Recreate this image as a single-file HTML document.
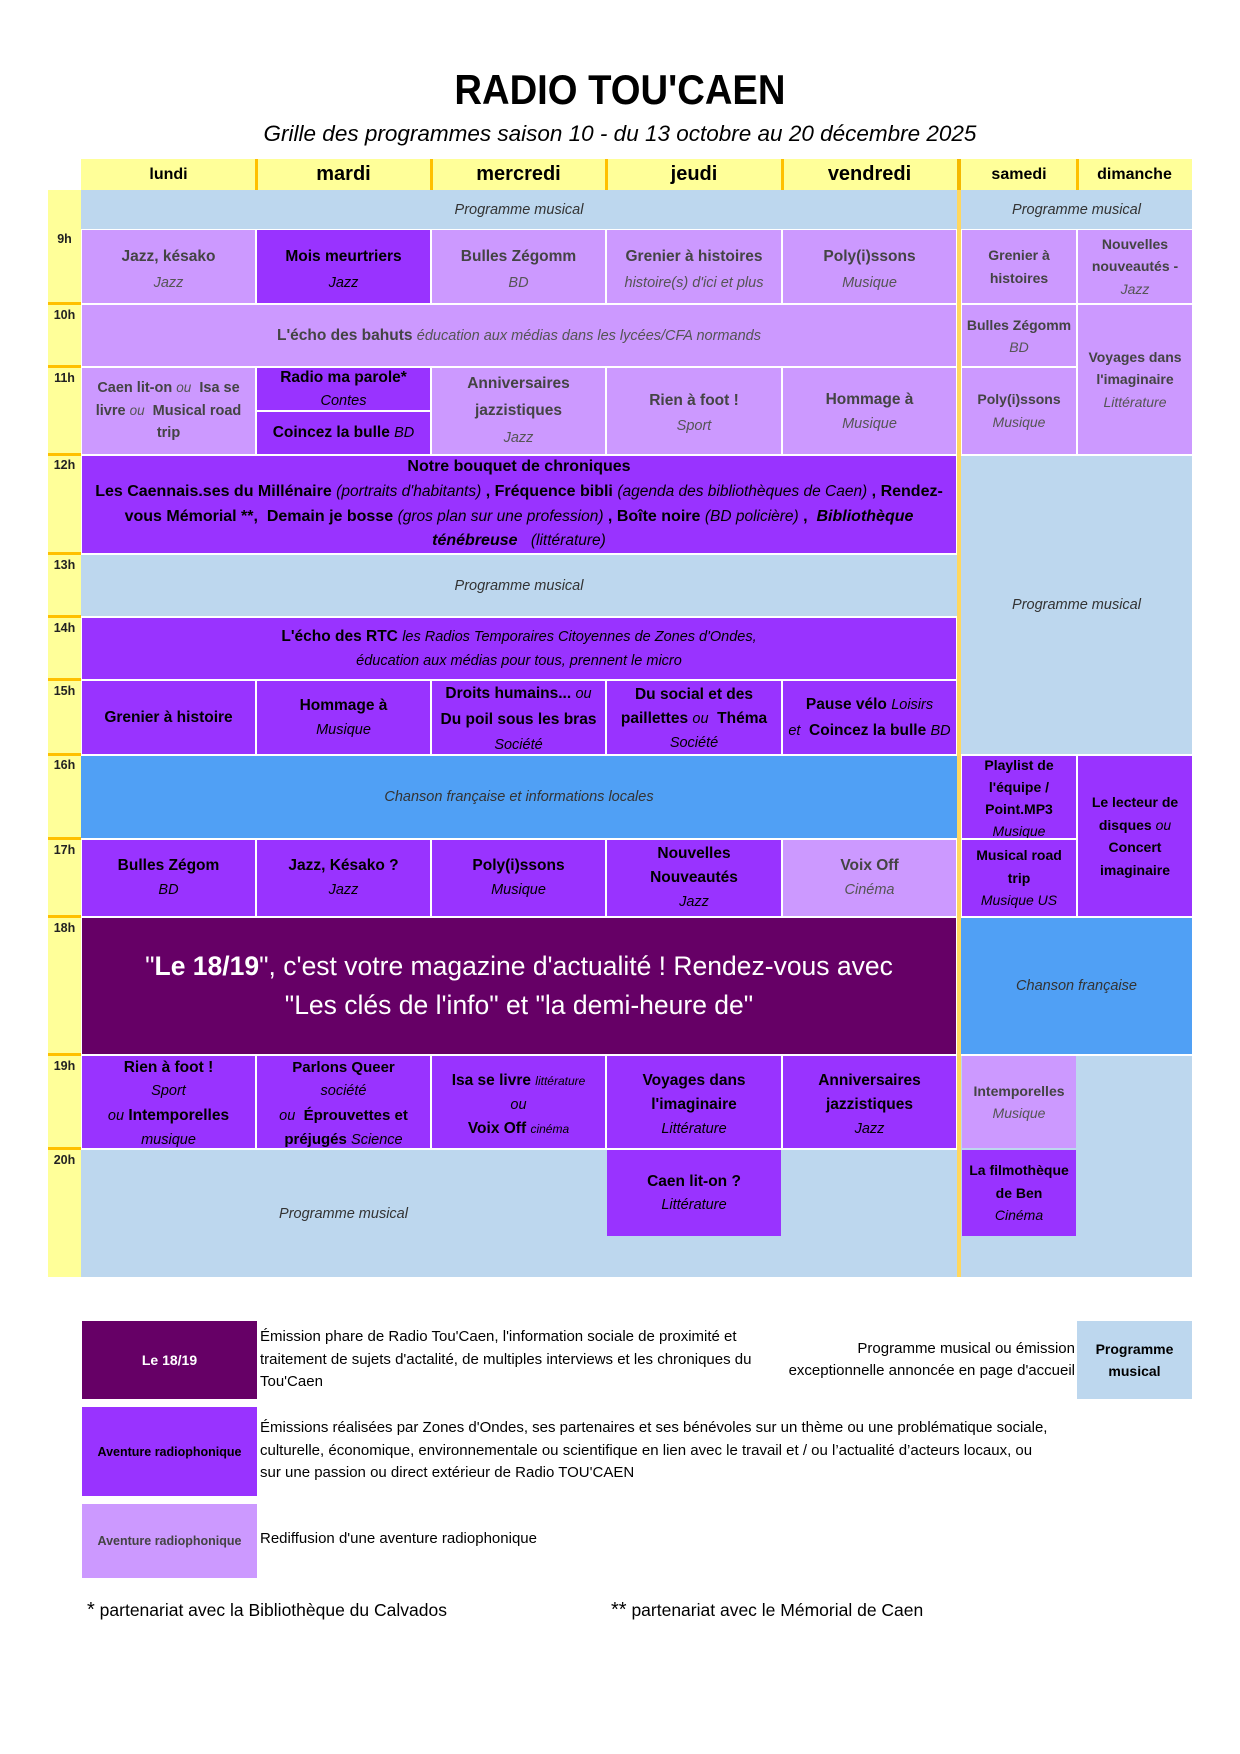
<!DOCTYPE html>
<html><head><meta charset="utf-8">
<style>
body{margin:0;width:1240px;height:1754px;position:relative;background:#fff;font-family:"Liberation Sans",sans-serif;overflow:hidden;color:#000}
.a{position:absolute}
.c{position:absolute;display:flex;align-items:center;justify-content:center;text-align:center;white-space:nowrap;overflow:hidden;box-sizing:border-box;font-weight:bold;font-size:15.5px;line-height:24px}
.c i{font-weight:normal;font-size:14.5px}
.c i.bi{font-weight:bold;font-size:16px}
.lb{background:#BDD7EE;color:#333}
.lb i{color:#333}
.lp{background:#CC99FF;color:#444}
.lp i{color:#555}
.p{background:#9933FF;color:#000}
.dp{background:#660066;color:#fff}
.bl{background:#50A0F5;color:#333}
.wk{font-size:14px}
.wk i{font-size:14px}
.hd{position:absolute;top:159px;height:31px;display:flex;align-items:center;justify-content:center;font-weight:bold;color:#000}
.or{position:absolute;background:#FFC000}
.tl{position:absolute;left:48px;width:33px;text-align:center;font-weight:bold;font-size:12.5px;line-height:14px;color:#222}
.lg{position:absolute;font-size:15px;line-height:22.5px;white-space:nowrap;color:#000}
</style></head><body>

<!-- Title -->
<div class="a" style="left:0;top:69px;width:1240px;text-align:center;font-weight:bold;font-size:42px;line-height:42px;"><span style="display:inline-block;transform:scaleX(0.91)">RADIO TOU'CAEN</span></div>
<div class="a" style="left:0;top:123px;width:1240px;text-align:center;font-style:italic;font-size:22.5px;line-height:22px;">Grille des programmes saison 10 - du 13 octobre au 20 décembre 2025</div>

<!-- Header -->
<div class="a" style="left:81px;top:159px;width:1111px;height:31px;background:#FFFF99"></div>
<div class="hd" style="left:81px;width:175px;font-size:16px">lundi</div>
<div class="hd" style="left:256px;width:175px;font-size:20px">mardi</div>
<div class="hd" style="left:431px;width:175px;font-size:20px">mercredi</div>
<div class="hd" style="left:606px;width:176px;font-size:20px">jeudi</div>
<div class="hd" style="left:782px;width:175px;font-size:20px">vendredi</div>
<div class="hd" style="left:961px;width:116px;font-size:16px">samedi</div>
<div class="hd" style="left:1077px;width:115px;font-size:16px">dimanche</div>
<div class="or" style="left:255px;top:159px;width:3px;height:31px"></div>
<div class="or" style="left:430px;top:159px;width:3px;height:31px"></div>
<div class="or" style="left:605px;top:159px;width:3px;height:31px"></div>
<div class="or" style="left:781px;top:159px;width:3px;height:31px"></div>
<div class="or" style="left:1076px;top:159px;width:3px;height:31px"></div>

<!-- Time column -->
<div class="a" style="left:48px;top:190px;width:33px;height:1087px;background:#FFFF99"></div>
<div class="or" style="left:48px;top:302px;width:33px;height:3px"></div>
<div class="or" style="left:48px;top:365px;width:33px;height:3px"></div>
<div class="or" style="left:48px;top:453px;width:33px;height:3px"></div>
<div class="or" style="left:48px;top:552px;width:33px;height:3px"></div>
<div class="or" style="left:48px;top:615px;width:33px;height:3px"></div>
<div class="or" style="left:48px;top:678px;width:33px;height:3px"></div>
<div class="or" style="left:48px;top:753px;width:33px;height:3px"></div>
<div class="or" style="left:48px;top:837px;width:33px;height:3px"></div>
<div class="or" style="left:48px;top:915px;width:33px;height:3px"></div>
<div class="or" style="left:48px;top:1053px;width:33px;height:3px"></div>
<div class="or" style="left:48px;top:1147px;width:33px;height:3px"></div>
<div class="tl" style="top:232px">9h</div>
<div class="tl" style="top:308px">10h</div>
<div class="tl" style="top:371px">11h</div>
<div class="tl" style="top:458px">12h</div>
<div class="tl" style="top:558px">13h</div>
<div class="tl" style="top:621px">14h</div>
<div class="tl" style="top:684px">15h</div>
<div class="tl" style="top:758px">16h</div>
<div class="tl" style="top:843px">17h</div>
<div class="tl" style="top:921px">18h</div>
<div class="tl" style="top:1059px">19h</div>
<div class="tl" style="top:1153px">20h</div>

<!-- Background light blue areas -->
<div class="a lb" style="left:81px;top:1150px;width:876px;height:127px"></div>
<div class="a lb" style="left:961px;top:1056px;width:231px;height:221px"></div>
<div class="a" style="left:81px;top:1150px;width:525px;height:127px;display:flex;align-items:center;justify-content:center;font-style:italic;font-size:14.5px;color:#333">Programme musical</div>

<!-- Top row -->
<div class="c lb" style="left:81px;top:190px;width:876px;height:39px"><div><i>Programme musical</i></div></div>
<div class="c lb" style="left:961px;top:190px;width:231px;height:39px"><div><i>Programme musical</i></div></div>

<!-- 9h -->
<div class="c lp" style="left:82px;top:230px;width:173px;height:73px;line-height:26px;padding-top:6px"><div>Jazz, késako<br><i>Jazz</i></div></div>
<div class="c p" style="left:257px;top:230px;width:173px;height:73px;line-height:26px;padding-top:6px"><div>Mois meurtriers<br><i>Jazz</i></div></div>
<div class="c lp" style="left:432px;top:230px;width:173px;height:73px;line-height:26px;padding-top:6px"><div>Bulles Zégomm<br><i>BD</i></div></div>
<div class="c lp" style="left:607px;top:230px;width:174px;height:73px;line-height:26px;padding-top:6px"><div>Grenier à histoires<br><i>histoire(s) d'ici et plus</i></div></div>
<div class="c lp" style="left:783px;top:230px;width:173px;height:73px;line-height:26px;padding-top:6px"><div>Poly(i)ssons<br><i>Musique</i></div></div>
<div class="c lp wk" style="left:962px;top:230px;width:114px;height:73px;line-height:23px"><div>Grenier à<br>histoires</div></div>
<div class="c lp wk" style="left:1078px;top:230px;width:114px;height:73px;line-height:22.5px"><div>Nouvelles<br>nouveautés -<br><i>Jazz</i></div></div>

<!-- 10h -->
<div class="c lp" style="left:82px;top:305px;width:874px;height:61px"><div>L'écho des bahuts <i>éducation aux médias dans les lycées/CFA normands</i></div></div>
<div class="c lp wk" style="left:962px;top:305px;width:114px;height:61px;line-height:22px"><div>Bulles Zégomm<br><i>BD</i></div></div>
<div class="c lp wk" style="left:1078px;top:305px;width:114px;height:149px;line-height:22.5px"><div>Voyages dans<br>l'imaginaire<br><i>Littérature</i></div></div>

<!-- 11h -->
<div class="c lp" style="left:82px;top:368px;width:173px;height:86px;line-height:22.5px;font-size:14.5px"><div>Caen lit-on <i style="font-size:13.5px">ou</i>&nbsp; Isa se<br>livre <i style="font-size:13.5px">ou</i>&nbsp; Musical road<br>trip</div></div>
<div class="c p" style="left:257px;top:368px;width:173px;height:42px;line-height:23px"><div>Radio ma parole*<br><i>Contes</i></div></div>
<div class="c p" style="left:257px;top:412px;width:173px;height:42px"><div>Coincez la bulle <i>BD</i></div></div>
<div class="c lp" style="left:432px;top:368px;width:173px;height:86px;line-height:27px"><div>Anniversaires<br>jazzistiques<br><i>Jazz</i></div></div>
<div class="c lp" style="left:607px;top:368px;width:174px;height:86px;line-height:25px;padding-top:4px"><div>Rien à foot !<br><i>Sport</i></div></div>
<div class="c lp" style="left:783px;top:368px;width:173px;height:86px;line-height:24px;padding-top:2px"><div>Hommage à<br><i>Musique</i></div></div>
<div class="c lp wk" style="left:962px;top:368px;width:114px;height:86px;line-height:23px"><div>Poly(i)ssons<br><i>Musique</i></div></div>

<!-- 12h -->
<div class="c p" style="left:82px;top:456px;width:874px;height:97px;line-height:24.7px;font-size:16px"><div>Notre bouquet de chroniques<br>Les Caennais.ses du Millénaire <i style="font-size:15.5px">(portraits d'habitants)</i> , Fréquence bibli <i style="font-size:15.5px">(agenda des bibliothèques de Caen)</i> , Rendez-<br>vous Mémorial **,&nbsp; Demain je bosse <i style="font-size:15.5px">(gros plan sur une profession)</i> , Boîte noire <i style="font-size:15.5px">(BD policière)</i> ,&nbsp; <i class="bi">Bibliothèque</i><br><i class="bi">ténébreuse</i>&nbsp;&nbsp; <i style="font-size:15.5px">(littérature)</i></div></div>
<div class="c lb" style="left:961px;top:456px;width:231px;height:298px"><div><i>Programme musical</i></div></div>

<!-- 13h -->
<div class="c lb" style="left:81px;top:555px;width:876px;height:61px"><div><i>Programme musical</i></div></div>

<!-- 14h -->
<div class="c p" style="left:82px;top:618px;width:874px;height:61px;line-height:23px"><div>L'écho des RTC <i>les Radios Temporaires Citoyennes de Zones d'Ondes,</i><br><i>éducation aux médias pour tous, prennent le micro</i></div></div>

<!-- 15h -->
<div class="c p" style="left:82px;top:681px;width:173px;height:73px"><div>Grenier à histoire</div></div>
<div class="c p" style="left:257px;top:681px;width:173px;height:73px;line-height:24px"><div>Hommage à<br><i>Musique</i></div></div>
<div class="c p" style="left:432px;top:681px;width:173px;height:73px;line-height:25px;padding-top:3px"><div>Droits humains... <i>ou</i><br>Du poil sous les bras<br><i>Société</i></div></div>
<div class="c p" style="left:607px;top:681px;width:174px;height:73px;line-height:24px;padding-top:3px"><div>Du social et des<br>paillettes <i>ou</i>&nbsp; Théma<br><i>Société</i></div></div>
<div class="c p" style="left:783px;top:681px;width:173px;height:73px;line-height:25px"><div>Pause vélo <i>Loisirs</i><br><i>et</i>&nbsp; Coincez la bulle <i>BD</i></div></div>

<!-- 16h -->
<div class="c bl" style="left:81px;top:756px;width:876px;height:82px"><div><i style="color:#333">Chanson française et informations locales</i></div></div>
<div class="c p wk" style="left:962px;top:756px;width:114px;height:82px;line-height:22px;align-items:flex-start"><div style="margin-top:-2px">Playlist de<br>l'équipe /<br>Point.MP3<br><i>Musique</i></div></div>
<div class="c p wk" style="left:1078px;top:756px;width:114px;height:160px;line-height:22.5px"><div>Le lecteur de<br>disques <i>ou</i><br>Concert<br>imaginaire</div></div>

<!-- 17h -->
<div class="c p" style="left:82px;top:840px;width:173px;height:76px;line-height:24px"><div>Bulles Zégom<br><i>BD</i></div></div>
<div class="c p" style="left:257px;top:840px;width:173px;height:76px;line-height:24px"><div>Jazz, Késako ?<br><i>Jazz</i></div></div>
<div class="c p" style="left:432px;top:840px;width:173px;height:76px;line-height:24px"><div>Poly(i)ssons<br><i>Musique</i></div></div>
<div class="c p" style="left:607px;top:840px;width:174px;height:76px;line-height:24px"><div>Nouvelles<br>Nouveautés<br><i>Jazz</i></div></div>
<div class="c lp" style="left:783px;top:840px;width:173px;height:76px;line-height:24px"><div>Voix Off<br><i>Cinéma</i></div></div>
<div class="c p wk" style="left:962px;top:840px;width:114px;height:76px;line-height:22.5px"><div>Musical road<br>trip<br><i>Musique US</i></div></div>

<!-- 18h -->
<div class="c dp" style="left:82px;top:918px;width:874px;height:136px;font-weight:normal;font-size:26.5px;line-height:39px"><div>"<b>Le 18/19</b>", c'est votre magazine d'actualité ! Rendez-vous avec<br>"Les clés de l'info" et "la demi-heure de"</div></div>
<div class="c bl" style="left:961px;top:918px;width:231px;height:136px"><div><i style="color:#333">Chanson française</i></div></div>

<!-- 19h -->
<div class="c p" style="left:82px;top:1056px;width:173px;height:92px;line-height:23.3px;padding-top:4px"><div>Rien à foot !<br><i>Sport</i><br><i>ou</i> Intemporelles<br><i>musique</i></div></div>
<div class="c p" style="left:257px;top:1056px;width:173px;height:92px;line-height:23.3px;padding-top:4px;font-size:15px"><div>Parlons Queer<br><i>société</i><br><i>ou</i>&nbsp; Éprouvettes et<br>préjugés <i>Science</i></div></div>
<div class="c p" style="left:432px;top:1056px;width:173px;height:92px;line-height:23px;padding-top:6px"><div>Isa se livre <i style="font-size:12px">littérature</i><br><i>ou</i><br>Voix Off <i style="font-size:12px">cinéma</i></div></div>
<div class="c p" style="left:607px;top:1056px;width:174px;height:92px;line-height:24px;padding-top:6px"><div>Voyages dans<br>l'imaginaire<br><i>Littérature</i></div></div>
<div class="c p" style="left:783px;top:1056px;width:173px;height:92px;line-height:24px;padding-top:6px"><div>Anniversaires<br>jazzistiques<br><i>Jazz</i></div></div>
<div class="c lp wk" style="left:962px;top:1056px;width:114px;height:92px;line-height:22px"><div>Intemporelles<br><i>Musique</i></div></div>

<!-- 20h -->
<div class="c p" style="left:607px;top:1150px;width:174px;height:86px;line-height:23px"><div>Caen lit-on ?<br><i>Littérature</i></div></div>
<div class="c p wk" style="left:962px;top:1150px;width:114px;height:86px;line-height:22.5px"><div>La filmothèque<br>de Ben<br><i>Cinéma</i></div></div>

<!-- separator bar -->
<div class="a" style="left:957px;top:159px;width:4px;height:1118px;background:#FFD75E"></div>
<div class="a" style="left:957px;top:159px;width:4px;height:31px;background:#F5B800"></div>

<!-- Legend -->
<div class="c dp" style="left:82px;top:1321px;width:175px;height:78px;font-size:14px"><div>Le 18/19</div></div>
<div class="c p" style="left:82px;top:1407px;width:175px;height:89px;font-size:12.5px"><div>Aventure radiophonique</div></div>
<div class="c lp" style="left:82px;top:1504px;width:175px;height:74px;font-size:12.5px"><div>Aventure radiophonique</div></div>

<div class="lg" style="left:260px;top:1326px">Émission phare de Radio Tou'Caen, l'information sociale de proximité et<br>traitement de sujets d'actalité, de multiples interviews et les chroniques du<br>Tou'Caen</div>
<div class="lg" style="left:260px;top:1417px">Émissions réalisées par Zones d'Ondes, ses partenaires et ses bénévoles sur un thème ou une problématique sociale,<br>culturelle, économique, environnementale ou scientifique en lien avec le travail et / ou l’actualité d’acteurs locaux, ou<br>sur une passion ou direct extérieur de Radio TOU'CAEN</div>
<div class="lg" style="left:260px;top:1528px">Rediffusion d'une aventure radiophonique</div>
<div class="lg" style="left:735px;top:1338px;width:340px;text-align:right;line-height:22px">Programme musical ou émission<br>exceptionnelle annoncée en page d'accueil</div>
<div class="c lb" style="left:1077px;top:1321px;width:115px;height:78px;font-size:14px;line-height:22px;color:#000"><div>Programme<br>musical</div></div>

<div class="a" style="left:87px;top:1598px;font-size:17.5px;line-height:24px;white-space:nowrap"><span style="font-size:20px">*</span> partenariat avec la Bibliothèque du Calvados</div>
<div class="a" style="left:611px;top:1598px;font-size:17.5px;line-height:24px;white-space:nowrap"><span style="font-size:20px">**</span> partenariat avec le Mémorial de Caen</div>

</body></html>
